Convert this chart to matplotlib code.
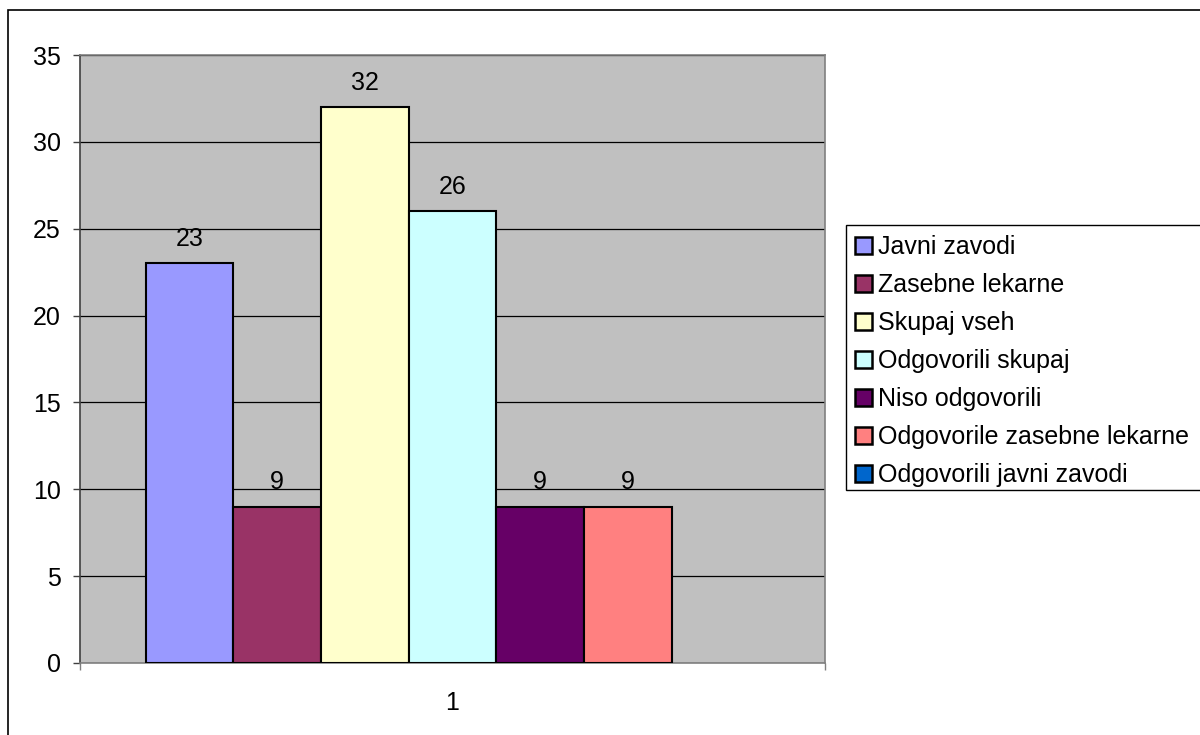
import matplotlib.pyplot as plt
import matplotlib.patches as mpatches
import numpy as np

plt.rcParams['font.family'] = ['Liberation Sans', 'DejaVu Sans']

# survey counts, one category with seven series
category = ['1']
series_names = ['Javni zavodi', 'Zasebne lekarne', 'Skupaj vseh', 'Odgovorili skupaj',
                'Niso odgovorili', 'Odgovorile zasebne lekarne', 'Odgovorili javni zavodi']
values = [23, 9, 32, 26, 9, 9, np.nan]
colors = ['#9999FF', '#993366', '#FFFFCC', '#CCFFFF', '#660066', '#FF8080', '#0066CC']

FS = 18
W, H = 1200, 735
fig = plt.figure(figsize=(W / 100, H / 100), dpi=100)

# outer chart frame (runs off the right and bottom)
fig.patches.append(mpatches.Rectangle((8 / W, -0.1), 1.2, 1 - 10 / H + 0.1,
                                      transform=fig.transFigure, fill=False,
                                      edgecolor='black', linewidth=1.2))

# plot area
x0, x1, ytop, ybot = 80, 825, 55, 663
ax = fig.add_axes([x0 / W, (H - ybot) / H, (x1 - x0) / W, (ybot - ytop) / H])
ax.set_facecolor('#C0C0C0')

n = len(series_names)
offsets = np.arange(n) - (n - 1) / 2
for off, val, col, name in zip(offsets, values, colors, series_names):
    if np.isnan(val):
        continue
    ax.bar(off, val, width=1.0, color=col, edgecolor='black', linewidth=1.5,
           label=name, zorder=3)
    ax.text(off, val + 0.7, f'{val:g}', ha='center', va='bottom', fontsize=FS)

ax.set_xlim(-n / 2 - 0.75, n / 2 + 0.75)
ax.set_ylim(0, 35)
ax.set_yticks(np.arange(0, 36, 5))
ax.yaxis.grid(True, color='black', linewidth=0.9, zorder=1)
ax.set_axisbelow(True)
ax.tick_params(axis='y', labelsize=FS, length=5, width=1, color='#404040', pad=9)

# category tick marks at the edges, label in the middle
ax.set_xticks([-n / 2 - 0.75, n / 2 + 0.75])
ax.set_xticklabels(['', ''])
ax.tick_params(axis='x', length=5, width=1, color='#808080')
ax.text(0, -1.6, category[0], ha='center', va='top', fontsize=FS)

for side in ['top', 'right']:
    ax.spines[side].set_color('#808080')
ax.spines['left'].set_color('#404040')
ax.spines['bottom'].set_color('#808080')
for s in ax.spines.values():
    s.set_linewidth(1.2)

# legend box reaches past the right edge
fig.patches.append(mpatches.Rectangle((846 / W, 1 - 490 / H), 0.5, (490 - 225) / H,
                                      transform=fig.transFigure, facecolor='white',
                                      edgecolor='black', linewidth=1.0, zorder=0))
handles = [mpatches.Patch(facecolor=c, edgecolor='black', linewidth=1.8) for c in colors]
leg = fig.legend(handles, series_names, loc='upper left',
                 bbox_to_anchor=(855 / W, 1 - 235 / H), fontsize=FS,
                 frameon=False, handlelength=0.68, handleheight=0.68,
                 handletextpad=0.22, labelspacing=0.56, borderpad=0,
                 borderaxespad=0)

fig.savefig('out.png', dpi=100)
